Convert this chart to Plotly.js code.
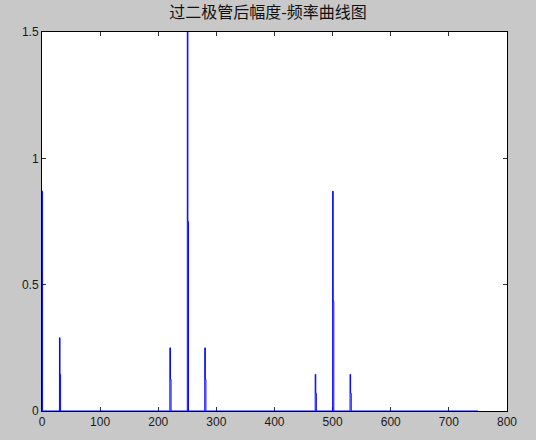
<!DOCTYPE html>
<html>
<head>
<meta charset="utf-8">
<script src="https://cdn.plot.ly/plotly-3.0.1.min.js"></script>
<style>
html,body{margin:0;padding:0;background:#c8c8c8;}
#chart{width:536px;height:440px;}
</style>
</head>
<body>
<div id="chart"></div>
<script>
// Spectrum spikes: frequency, peak value, neighbour-bin value
const spikeFreq = [0, 30, 220, 250, 280, 470, 500, 530];
const spikePeak = [0.87, 0.29, 0.25, 1.5, 0.25, 0.145, 0.87, 0.145];
const spikeSide = [0, 0.145, 0.125, 0.75, 0.125, 0.07, 0.435, 0.07];
const freqEnd = 750;
const xTicks = [0, 100, 200, 300, 400, 500, 600, 700, 800];
const yTicks = [0, 0.5, 1, 1.5];
const yTickText = ['0', '0.5', '1', '1.5'];
const titleText = '过二极管后幅度-频率曲线图';

// build the polyline: zero baseline with spikes
const xs = [], ys = [];
spikeFreq.forEach((f, i) => {
  if (f > 0) { xs.push(f - 1); ys.push(0); }
  xs.push(f); ys.push(spikePeak[i]);
  xs.push(f + 1); ys.push(spikeSide[i]);
  xs.push(f + 2); ys.push(0);
});
xs.push(freqEnd); ys.push(0);

const trace = {
  x: xs, y: ys, type: 'scatter', mode: 'lines',
  line: {color: '#0000ff', width: 1, shape: 'hv'},
  hoverinfo: 'skip'
};

const axisCommon = {
  showgrid: false, zeroline: false, showline: true, linecolor: '#000000', linewidth: 1,
  mirror: 'ticks', ticks: 'inside', ticklen: 4, tickcolor: '#333333', tickwidth: 1,
  tickfont: {family: 'Liberation Sans, Arial, sans-serif', size: 12, color: '#1a1a1a'},
  layer: 'below traces'
};

const layout = {
  width: 536, height: 440,
  paper_bgcolor: '#c8c8c8', plot_bgcolor: '#ffffff',
  margin: {l: 42, r: 29, t: 32, b: 29, pad: 0},
  showlegend: false,
  title: {text: titleText, x: 0.5, xanchor: 'center', y: 0.971, yanchor: 'middle',
          font: {family: 'Noto Sans CJK SC, sans-serif', size: 16, color: '#111111'}},
  xaxis: Object.assign({}, axisCommon, {range: [0, 800], tickvals: xTicks, ticktext: xTicks.map(String)}),
  yaxis: Object.assign({}, axisCommon, {range: [0, 1.5], tickvals: yTicks, ticktext: yTickText})
};

Plotly.newPlot('chart', [trace], layout, {displayModeBar: false, staticPlot: true});
</script>
</body>
</html>
